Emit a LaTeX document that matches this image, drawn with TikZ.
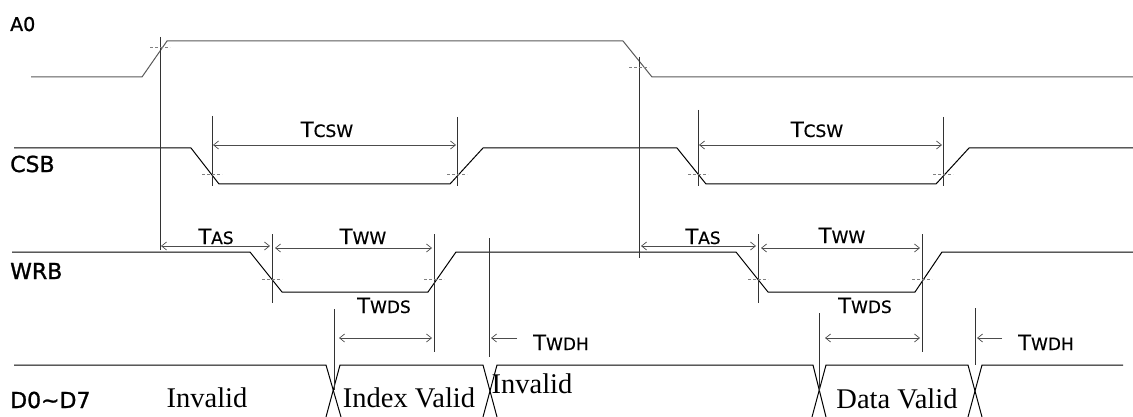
\documentclass[tikz,border=0pt]{standalone}
\usepackage{fontspec}
\setmainfont{Liberation Serif}
\setsansfont{DejaVu Sans}
\newfontfamily\sigfont[FakeBold=1.2]{DejaVu Sans}
\newfontfamily\labfont[FakeBold=0.5]{DejaVu Sans}
\usetikzlibrary{arrows.meta}

% timing label: big T, smaller rest
\newcommand{\tname}[1]{T{\fontsize{17}{17}\selectfont #1}}

\tikzset{
  wave/.style={line width=1pt},
  awave/.style={line width=1pt, black!65},
  refl/.style={line width=0.8pt, black!80},
  tickm/.style={line width=0.5pt, gray, densely dashed},
  dim/.style={{Straight Barb[length=5pt,width=8pt]}-{Straight Barb[length=5pt,width=8pt]}, line width=0.7pt, black!70},
  dimr/.style={-{Straight Barb[length=5pt,width=8pt]}, line width=0.7pt, black!70},
  signame/.style={anchor=base west, inner sep=0pt, font=\sigfont\fontsize{22}{22}\selectfont},
  tlab/.style={anchor=base, inner sep=0pt, font=\labfont\fontsize{21}{21}\selectfont},
  dlab/.style={anchor=base, inner sep=0pt, font=\rmfamily\fontsize{28.5}{28.5}\selectfont}
}

\begin{document}
\begin{tikzpicture}[x=1pt,y=-1pt]
	\useasboundingbox (0,0) rectangle (1133,417);

	% signal names
	\node[signame, font=\sigfont\fontsize{19}{19}\selectfont] (a0) at (10,31) {A0};
	\node[signame] (csb) at (10,172) {CSB};
	\node[signame] (wrb) at (10,279) {WRB};
	\node[signame] (dbus) at (10,408) {D0\textasciitilde D7};

	% waveforms
	\draw[awave] (31,77) -- (142,77) -- (167,41) -- (623,41) -- (652,77) -- (1133,77);
	\draw[wave] (14,148) -- (191,148) -- (219,184) -- (450,184) -- (483,148) -- (677,148)
		-- (706,184) -- (936,184) -- (969,148) -- (1133,148);
	\draw[wave] (12,252) -- (250,252) -- (282,292) -- (428,292) -- (456,252) -- (736,252)
		-- (768,292) -- (915,292) -- (942,252) -- (1133,252);

	% data bus
	\draw[wave] (14,365) -- (326,365) -- (341,417);
	\draw[wave] (326,417) -- (340,365) -- (483,365) -- (497,417);
	\draw[wave] (483,417) -- (497,365) -- (813,365) -- (826,417);
	\draw[wave] (812,417) -- (826,365) -- (968,365) -- (982,417);
	\draw[wave] (968,417) -- (982,365) -- (1123,365);

	% reference lines
	\draw[refl] (160,37) -- (160,250);
	\draw[refl] (639,57) -- (639,258);
	\foreach \x/\a/\b in {212/116/186, 457/117/186, 698/110/186, 943/117/186,
		272/234/303, 434/234/352, 489/238/357, 758/234/303, 922/234/352,
		334/309/390, 819/313/391, 975/308/365}
		\draw[refl] (\x,\a) -- (\x,\b);

	% crossing marks
	\draw[tickm] (150,47) -- (170,47);
	\draw[tickm] (629,67) -- (649,67);
	\foreach \x in {212, 457, 698, 943}
		\draw[tickm] (\x-10,174) -- (\x+10,174);
	\foreach \x in {272, 434, 758, 922}
		\draw[tickm] (\x-10,279) -- (\x+10,279);

	% dimension ends
	\coordinate (cs1l) at (213,145);
	\coordinate (cs1r) at (456,145);
	\coordinate (cs2l) at (699,145);
	\coordinate (cs2r) at (942,145);
	\coordinate (as1l) at (161,246);
	\coordinate (as1r) at (270,246);
	\coordinate (ww1l) at (275,248);
	\coordinate (ww1r) at (432,248);
	\coordinate (as2l) at (641,246);
	\coordinate (as2r) at (756,246);
	\coordinate (ww2l) at (761,248);
	\coordinate (ww2r) at (920,248);
	\coordinate (ds1l) at (339,338);
	\coordinate (ds1r) at (432,338);
	\coordinate (ds2l) at (825,338);
	\coordinate (ds2r) at (920,338);
	\coordinate (dh1a) at (517,338);
	\coordinate (dh1b) at (491,338);
	\coordinate (dh2a) at (1002,338);
	\coordinate (dh2b) at (977,338);

	\draw[dim] (cs1l) -- (cs1r);
	\draw[dim] (cs2l) -- (cs2r);
	\draw[dim] (as1l) -- (as1r);
	\draw[dim] (ww1l) -- (ww1r);
	\draw[dim] (as2l) -- (as2r);
	\draw[dim] (ww2l) -- (ww2r);
	\draw[dim] (ds1l) -- (ds1r);
	\draw[dim] (ds2l) -- (ds2r);
	\draw[dimr] (dh1a) -- (dh1b);
	\draw[dimr] (dh2a) -- (dh2b);

	% timing labels
	\node[tlab] (tcsw1) at (327,137) {\tname{CSW}};
	\node[tlab] (tcsw2) at (817,137) {\tname{CSW}};
	\node[tlab] (tas1) at (216,244) {\tname{AS}};
	\node[tlab] (tas2) at (703,244) {\tname{AS}};
	\node[tlab] (tww1) at (363,244) {\tname{WW}};
	\node[tlab] (tww2) at (842,243) {\tname{WW}};
	\node[tlab] (twds1) at (384,313) {\tname{WDS}};
	\node[tlab] (twds2) at (865,313) {\tname{WDS}};
	\node[tlab] (twdh1) at (561,350) {\tname{WDH}};
	\node[tlab] (twdh2) at (1046,350) {\tname{WDH}};

	% bus contents
	\node[dlab] (inv1) at (207,407) {Invalid};
	\node[dlab] (idx) at (409,407) {Index Valid};
	\node[dlab] (inv2) at (532,393) {Invalid};
	\node[dlab] (dat) at (897,408) {Data Valid};
\end{tikzpicture}
\end{document}
